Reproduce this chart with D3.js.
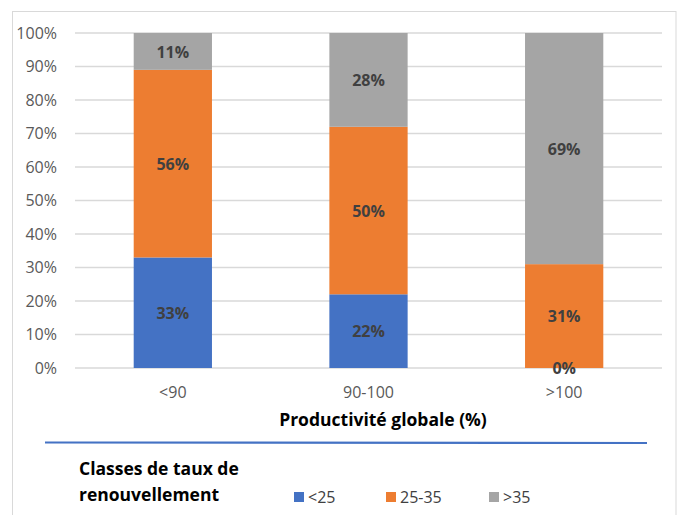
<!DOCTYPE html>
<html><head><meta charset="utf-8">
<script src="https://cdn.jsdelivr.net/npm/d3@7"></script>
<style>body{margin:0;background:#fff}svg{display:block}text{font-family:"Open Sans",Lato,sans-serif}</style>
</head><body><svg id="c" width="677" height="515"></svg>
<script>
const categories = ["<90", "90-100", ">100"];
const seriesNames = ["<25", "25-35", ">35"];
const s_lt25 = [0.33, 0.22, 0.00];
const s_25_35 = [0.56, 0.50, 0.31];
const s_gt35 = [0.11, 0.28, 0.69];
const yTicks = [0,0.1,0.2,0.3,0.4,0.5,0.6,0.7,0.8,0.9,1.0];
const colors = ["#4472C4", "#ED7D31", "#A5A5A5"];
const xTitle = "Productivité globale (%)";
const legendTitle = ["Classes de taux de", "renouvellement"];

const FONT = '"Open Sans",Lato,sans-serif';
const svg = d3.select("#c");
svg.append("rect").attr("x",12.5).attr("y",11.5).attr("width",663.5).attr("height",520).attr("fill","#fff").attr("stroke","#d9d9d9").attr("stroke-width",1);

const x = d3.scaleBand().domain(categories).range([75,662]).paddingInner(0.6).paddingOuter(0.3);
const y = d3.scaleLinear().domain([0,1]).range([368,33]);

svg.append("g").selectAll("line").data(yTicks).join("line")
  .attr("x1",75).attr("x2",662).attr("y1",d=>y(d)).attr("y2",d=>y(d))
  .attr("stroke","#d9d9d9").attr("stroke-width",1.3);

const yAxis = svg.append("g").attr("transform","translate(75,0)")
  .call(d3.axisLeft(y).tickValues(yTicks).tickFormat(d3.format(".0%")).tickSize(0).tickPadding(18));
yAxis.select(".domain").remove();
yAxis.selectAll("text").attr("font-size",16).attr("fill","#595959").style("font-family",FONT);

const xAxis = svg.append("g").attr("transform","translate(0,368)")
  .call(d3.axisBottom(x).tickSize(0).tickPadding(19));
xAxis.select(".domain").remove();
xAxis.selectAll("text").attr("font-size",16).attr("fill","#595959").style("font-family",FONT);

const table = categories.map((c,i)=>({cat:c, "<25":s_lt25[i], "25-35":s_25_35[i], ">35":s_gt35[i]}));
const stacked = d3.stack().keys(seriesNames)(table);

const g = svg.append("g");
stacked.forEach((layer,li)=>{
  g.append("g").selectAll("rect").data(layer).join("rect")
    .attr("x",d=>x(d.data.cat)).attr("width",x.bandwidth())
    .attr("y",d=>y(d[1])).attr("height",d=>y(d[0])-y(d[1]))
    .attr("fill",colors[li]);
});
stacked.forEach((layer,li)=>{
  g.append("g").selectAll("text").data(layer).join("text")
    .attr("x",d=>x(d.data.cat)+x.bandwidth()/2)
    .attr("y",d=>(y(d[0])+y(d[1]))/2 + 2)
    .attr("text-anchor","middle").attr("dominant-baseline","middle")
    .attr("font-size",16).attr("font-weight","bold").attr("fill","#404040")
    .text(d=>d3.format(".0%")(d[1]-d[0]));
});

svg.append("text").attr("x",383).attr("y",426).attr("text-anchor","middle")
  .attr("font-size",17.5).attr("font-weight","bold").attr("fill","#000").text(xTitle);

svg.append("line").attr("x1",45).attr("x2",647).attr("y1",442.5).attr("y2",443)
  .attr("stroke","#4472C4").attr("stroke-width",2.2);

svg.append("text").attr("x",79).attr("y",475).attr("font-size",17.5).attr("font-weight","bold").attr("fill","#000").text(legendTitle[0]);
svg.append("text").attr("x",79).attr("y",501).attr("font-size",17.5).attr("font-weight","bold").attr("fill","#000").text(legendTitle[1]);

const legX = [294, 386, 489];
seriesNames.forEach((n,i)=>{
  svg.append("rect").attr("x",legX[i]).attr("y",492).attr("width",10).attr("height",10).attr("fill",colors[i]);
  svg.append("text").attr("x",legX[i]+14).attr("y",503).attr("font-size",16).attr("fill","#404040").text(n);
});
</script></body></html>
